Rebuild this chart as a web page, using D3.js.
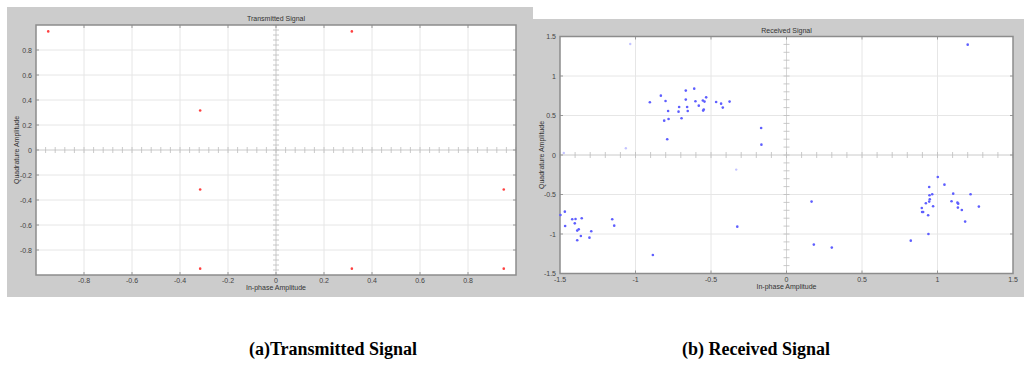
<!DOCTYPE html>
<html>
<head>
<meta charset="utf-8">
<script src="https://cdn.jsdelivr.net/npm/d3@7"></script>
<style>
  html, body { margin: 0; padding: 0; background: #ffffff; }
  svg { display: block; }
  text { font-family: "Liberation Sans", Arial, sans-serif; }
</style>
</head>
<body>
<svg id="chart" width="1024" height="365"></svg>
<script>
// ---------- DATA ----------
// (a) Transmitted signal constellation points
const txI = [-0.949, 0.316, -0.316, -0.316, 0.949, -0.316, 0.316, 0.949];
const txQ = [0.949, 0.949, 0.316, -0.316, -0.316, -0.949, -0.949, -0.949];
const txTicks = [-0.8, -0.6, -0.4, -0.2, 0, 0.2, 0.4, 0.6, 0.8];
const txTickLabels = ["-0.8", "-0.6", "-0.4", "-0.2", "0", "0.2", "0.4", "0.6", "0.8"];

// (b) Received signal points
const rxI = [1.20, -0.905, -0.832, -0.801, -0.784, -0.81, -0.781, -0.711, -0.715, -0.695,
  -0.667, -0.667, -0.658, -0.654, -0.611, -0.603, -0.581, -0.554, -0.543, -0.532,
  -0.552, -0.548, -0.466, -0.433, -0.422, -0.377, -0.79, -0.168, -0.166,
  -1.497, -1.468, -1.466, -1.419, -1.397, -1.402, -1.356, -1.376, -1.386, -1.386,
  -1.362, -1.293, -1.305, -1.154, -1.141, -0.885, -0.326,
  0.166, 0.181, 0.300, 0.823, 0.896, 0.898, 0.905, 0.923, 0.938, 0.940, 0.945,
  0.947, 0.945, 0.949, 0.965, 0.971, 1.002, 1.046, 1.093, 1.104, 1.132, 1.137,
  1.135, 1.161, 1.183, 1.219, 1.274];
const rxQ = [1.397, 0.667, 0.751, 0.684, 0.557, 0.435, 0.456, 0.608, 0.549, 0.465,
  0.815, 0.701, 0.608, 0.557, 0.840, 0.680, 0.625, 0.689, 0.676, 0.730,
  0.562, 0.575, 0.671, 0.650, 0.600, 0.676, 0.199, 0.342, 0.131,
  -0.759, -0.717, -0.899, -0.814, -0.810, -0.865, -0.801, -0.941, -0.957, -1.080,
  -1.025, -0.966, -1.046, -0.814, -0.894, -1.266, -0.907,
  -0.590, -1.134, -1.172, -1.084, -0.671, -0.722, -0.722, -0.611, -0.763, -1.0, -0.405,
  -0.510, -0.590, -0.561, -0.497, -0.649, -0.278, -0.375, -0.586, -0.489, -0.603, -0.616,
  -0.666, -0.696, -0.843, -0.497, -0.653];
// faint received points
const rxFaintI = [-1.035, -1.064, -1.475, -0.333];
const rxFaintQ = [1.405, 0.085, 0.025, -0.185];
const rxTicks = [-1.5, -1, -0.5, 0, 0.5, 1, 1.5];
const rxTickLabels = ["-1.5", "-1", "-0.5", "0", "0.5", "1", "1.5"];

const captions = ["(a)Transmitted Signal", "(b) Received Signal"];
const titles = ["Transmitted Signal", "Received Signal"];
const xLabel = "In-phase Amplitude";
const yLabel = "Quadrature Amplitude";

// ---------- DRAW ----------
const svg = d3.select("#chart");
const bg = "#cccccc";

// panel backgrounds
svg.append("rect").attr("x", 7).attr("y", 7).attr("width", 526).attr("height", 290).attr("fill", bg);
svg.append("rect").attr("x", 533).attr("y", 19).attr("width", 491).attr("height", 278).attr("fill", bg);

function panel(opt) {
  const x = d3.scaleLinear().domain(opt.domain).range([opt.left, opt.right]);
  const y = d3.scaleLinear().domain(opt.domain).range([opt.bottom, opt.top]);
  const g = svg.append("g");

  g.append("rect").attr("x", opt.left).attr("y", opt.top)
    .attr("width", opt.right - opt.left).attr("height", opt.bottom - opt.top)
    .attr("fill", "#ffffff");

  // grid
  const gridTicks = opt.ticks.filter(t => t > opt.domain[0] && t < opt.domain[1]);
  g.selectAll(".gx").data(gridTicks).join("line")
    .attr("x1", d => x(d)).attr("x2", d => x(d))
    .attr("y1", opt.top).attr("y2", opt.bottom)
    .attr("stroke", "#e6e6e6").attr("stroke-width", 1);
  g.selectAll(".gy").data(gridTicks).join("line")
    .attr("y1", d => y(d)).attr("y2", d => y(d))
    .attr("x1", opt.left).attr("x2", opt.right)
    .attr("stroke", "#e6e6e6").attr("stroke-width", 1);

  // crossing axes with minor ticks
  const minor = d3.range(opt.domain[0], opt.domain[1] + 1e-9, opt.minorStep);
  g.append("line").attr("x1", x(0)).attr("x2", x(0)).attr("y1", opt.top).attr("y2", opt.bottom)
    .attr("stroke", "#d6d6d6").attr("stroke-width", 1);
  g.append("line").attr("y1", y(0)).attr("y2", y(0)).attr("x1", opt.left).attr("x2", opt.right)
    .attr("stroke", "#d6d6d6").attr("stroke-width", 1);
  g.selectAll(".mty").data(minor).join("line")
    .attr("x1", x(0) - 3).attr("x2", x(0) + 3)
    .attr("y1", d => y(d)).attr("y2", d => y(d))
    .attr("stroke", "#bcbcbc").attr("stroke-width", 0.8);
  g.selectAll(".mtx").data(minor).join("line")
    .attr("y1", y(0) - 3).attr("y2", y(0) + 3)
    .attr("x1", d => x(d)).attr("x2", d => x(d))
    .attr("stroke", "#bcbcbc").attr("stroke-width", 0.8);

  // border ticks
  g.selectAll(".bt").data(gridTicks).join(enter => {
    const s = enter.append("g");
    s.append("line").attr("x1", d => x(d)).attr("x2", d => x(d)).attr("y1", opt.bottom).attr("y2", opt.bottom - 3).attr("stroke", "#999");
    s.append("line").attr("x1", d => x(d)).attr("x2", d => x(d)).attr("y1", opt.top).attr("y2", opt.top + 3).attr("stroke", "#999");
    s.append("line").attr("y1", d => y(d)).attr("y2", d => y(d)).attr("x1", opt.left).attr("x2", opt.left + 3).attr("stroke", "#999");
    s.append("line").attr("y1", d => y(d)).attr("y2", d => y(d)).attr("x1", opt.right).attr("x2", opt.right - 3).attr("stroke", "#999");
    return s;
  });

  // border
  g.append("rect").attr("x", opt.left).attr("y", opt.top)
    .attr("width", opt.right - opt.left).attr("height", opt.bottom - opt.top)
    .attr("fill", "none").attr("stroke", "#8c8c8c").attr("stroke-width", 1.5);

  // tick labels
  const lab = opt.ticks.map((t, i) => ({ t, l: opt.labels[i] }));
  g.selectAll(".xl").data(lab).join("text")
    .attr("x", d => x(d.t)).attr("y", opt.bottom + 8)
    .attr("text-anchor", "middle").attr("font-size", 7).attr("fill", "#444")
    .text(d => d.l);
  g.selectAll(".yl").data(lab).join("text")
    .attr("x", opt.left - 4).attr("y", d => y(d.t) + 2.5)
    .attr("text-anchor", "end").attr("font-size", 7).attr("fill", "#444")
    .text(d => d.l);

  // titles
  g.append("text").attr("x", (opt.left + opt.right) / 2).attr("y", opt.top - 4)
    .attr("text-anchor", "middle").attr("font-size", 7).attr("fill", "#333").text(opt.title);
  g.append("text").attr("x", (opt.left + opt.right) / 2).attr("y", opt.bottom + 15)
    .attr("text-anchor", "middle").attr("font-size", 7).attr("fill", "#333").text(xLabel);
  g.append("text")
    .attr("transform", `translate(${opt.ylabX},${(opt.top + opt.bottom) / 2}) rotate(-90)`)
    .attr("text-anchor", "middle").attr("font-size", 7).attr("fill", "#333").text(yLabel);

  return { x, y, g };
}

// (a) transmitted
const pA = panel({
  left: 36, right: 516, top: 25, bottom: 275,
  domain: [-1, 1], ticks: txTicks, labels: txTickLabels, minorStep: 0.04,
  title: titles[0], ylabX: 19
});
pA.g.selectAll(".pt").data(txI.map((v, i) => [v, txQ[i]])).join("circle")
  .attr("cx", d => pA.x(d[0])).attr("cy", d => pA.y(d[1])).attr("r", 1.3)
  .attr("fill", "#ff4040");

// (b) received
const pB = panel({
  left: 560, right: 1013, top: 36.5, bottom: 273.5,
  domain: [-1.5, 1.5], ticks: rxTicks, labels: rxTickLabels, minorStep: 0.1,
  title: titles[1], ylabX: 544
});
pB.g.selectAll(".pf").data(rxFaintI.map((v, i) => [v, rxFaintQ[i]])).join("circle")
  .attr("cx", d => pB.x(d[0])).attr("cy", d => pB.y(d[1])).attr("r", 1.2)
  .attr("fill", "#c4c4ff");
pB.g.selectAll(".pt").data(rxI.map((v, i) => [v, rxQ[i]])).join("circle")
  .attr("cx", d => pB.x(d[0])).attr("cy", d => pB.y(d[1])).attr("r", 1.3)
  .attr("fill", "#5e5eff");

// captions
svg.selectAll(".cap").data(captions).join("text")
  .attr("x", (d, i) => [333, 756][i]).attr("y", 355)
  .attr("text-anchor", "middle")
  .style("font-family", "'Liberation Serif', 'Times New Roman', serif")
  .attr("font-weight", "bold").attr("font-size", 18).attr("fill", "#000")
  .text(d => d);
</script>
</body>
</html>
